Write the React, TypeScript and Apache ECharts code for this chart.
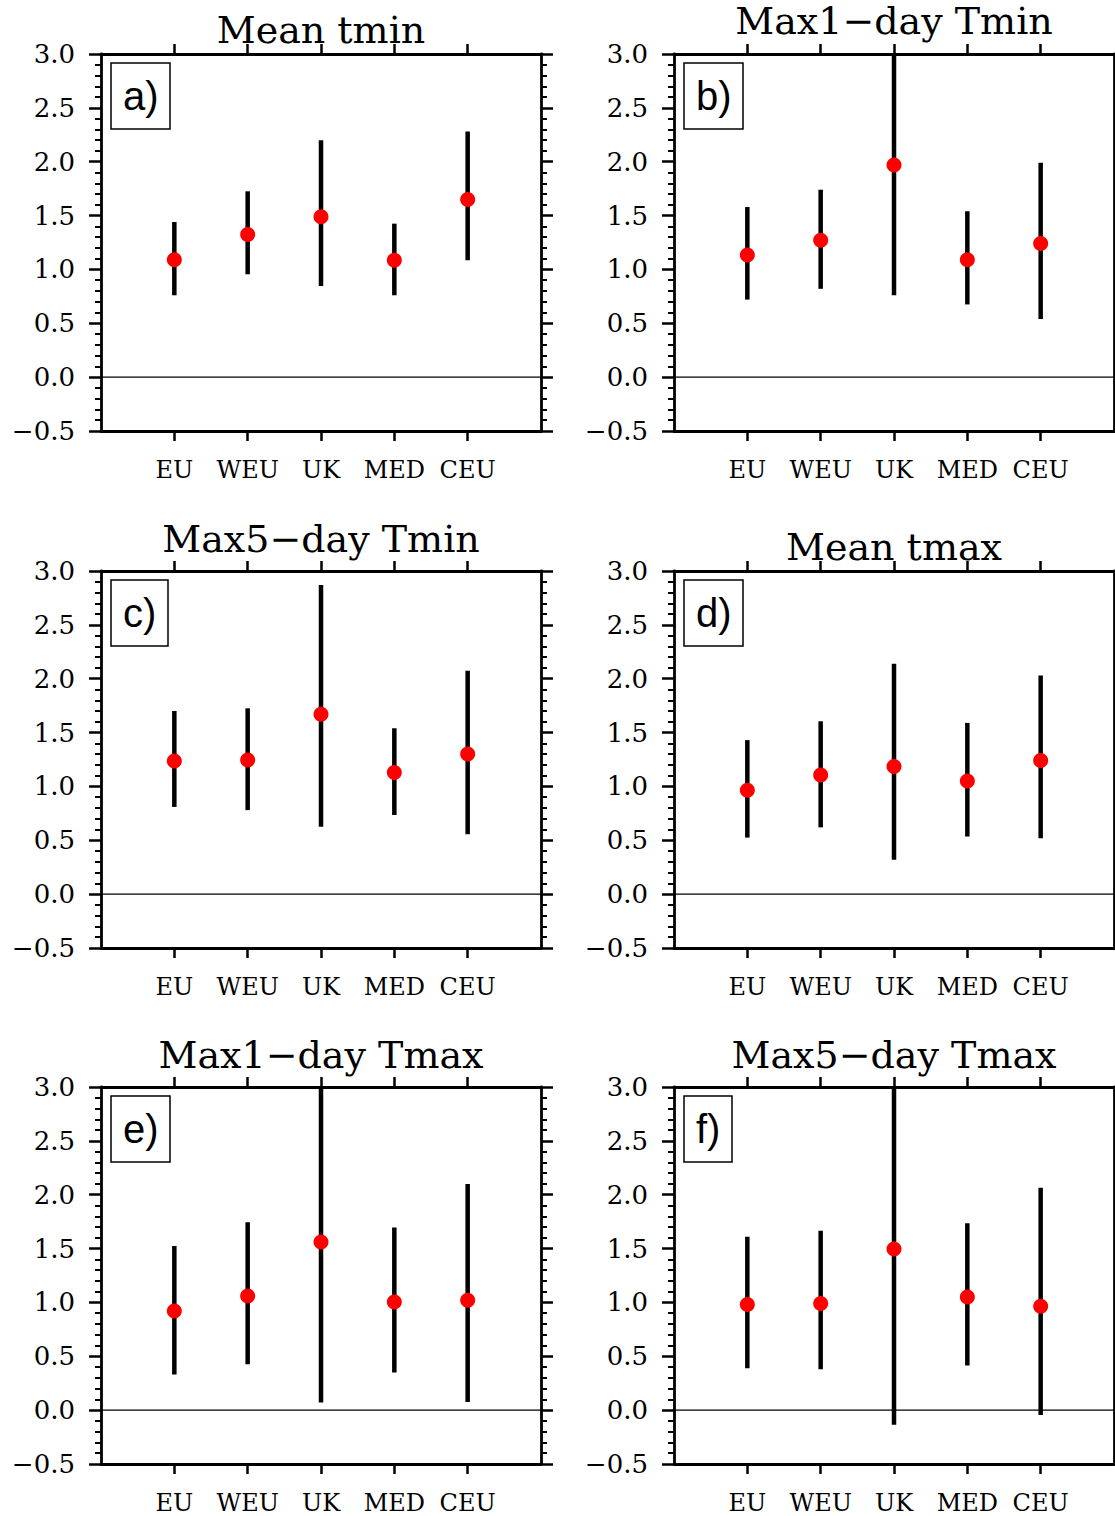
import React, { useEffect, useRef } from "react";
import * as echarts from "echarts";

// ---------------- data ----------------
const categories = ["EU", "WEU", "UK", "MED", "CEU"];
const panelTitles = ["Mean tmin", "Max1\u2212day Tmin", "Max5\u2212day Tmin", "Mean tmax", "Max1\u2212day Tmax", "Max5\u2212day Tmax"];
const panelTags = ["a)", "b)", "c)", "d)", "e)", "f)"];

// a) Mean tmin
const meanA = [1.09, 1.325, 1.49, 1.085, 1.65];
const lowA = [0.76, 0.955, 0.845, 0.76, 1.085];
const highA = [1.44, 1.725, 2.2, 1.425, 2.28];
// b) Max1-day Tmin
const meanB = [1.135, 1.27, 1.97, 1.09, 1.24];
const lowB = [0.72, 0.82, 0.76, 0.675, 0.54];
const highB = [1.58, 1.74, 3.3, 1.54, 1.99];
// c) Max5-day Tmin
const meanC = [1.235, 1.245, 1.67, 1.13, 1.3];
const lowC = [0.81, 0.78, 0.625, 0.735, 0.555];
const highC = [1.7, 1.725, 2.87, 1.54, 2.075];
// d) Mean tmax
const meanD = [0.965, 1.105, 1.185, 1.05, 1.24];
const lowD = [0.525, 0.62, 0.32, 0.535, 0.52];
const highD = [1.43, 1.605, 2.14, 1.59, 2.03];
// e) Max1-day Tmax
const meanE = [0.92, 1.06, 1.56, 1.005, 1.02];
const lowE = [0.33, 0.425, 0.07, 0.35, 0.075];
const highE = [1.525, 1.745, 3.3, 1.695, 2.1];
// f) Max5-day Tmax
const meanF = [0.98, 0.99, 1.495, 1.05, 0.965];
const lowF = [0.39, 0.38, -0.135, 0.415, -0.045];
const highF = [1.61, 1.665, 3.3, 1.735, 2.065];

const means = [meanA, meanB, meanC, meanD, meanE, meanF];
const lows = [lowA, lowB, lowC, lowD, lowE, lowF];
const highs = [highA, highB, highC, highD, highE, highF];

// ---------------- layout ----------------
const colLefts = [101, 674];
const rowTops = [54, 571, 1087];
const plotW = 440;
const plotH = 377;
const titleCenterY = [30, 21, 539, 547, 1055, 1055];
const serif = "DejaVu Serif";

function fmtY(v: number): string {
  const s = Math.abs(v).toFixed(1);
  return v < 0 ? "\u2212" + s : s;
}

export default function App() {
  const ref = useRef<HTMLDivElement>(null);

  useEffect(() => {
    if (!ref.current) return;
    const chart = echarts.init(ref.current, undefined, { renderer: "svg" });

    const grids: any[] = [];
    const xAxes: any[] = [];
    const yAxes: any[] = [];
    const series: any[] = [];
    const titles: any[] = [];
    const graphics: any[] = [];
    const catTicks = categories.map((_, i) => i + 1);

    for (let p = 0; p < 6; p++) {
      const col = p % 2;
      const row = Math.floor(p / 2);
      const left = colLefts[col];
      const top = rowTops[row];
      grids.push({ left, top, width: plotW, height: plotH, containLabel: false });

      const axisLineStyle = { color: "#000", width: 2.8 };
      const xBase = {
        type: "value",
        gridIndex: p,
        min: 0,
        max: 6,
        interval: 1,
        splitLine: { show: false },
        axisLine: { show: true, onZero: false, lineStyle: axisLineStyle },
        axisTick: { show: true, inside: false, length: 10, customValues: catTicks, lineStyle: { color: "#000", width: 2.5 } },
      };
      xAxes.push({
        ...xBase,
        position: "bottom",
        axisLabel: {
          show: true,
          customValues: catTicks,
          margin: 27,
          color: "#000",
          fontFamily: serif,
          fontSize: 24,
          formatter: (v: number) => categories[Math.round(v) - 1] ?? "",
        },
      });
      xAxes.push({ ...xBase, position: "top", axisLabel: { show: false } });

      const yBase = {
        type: "value",
        gridIndex: p,
        min: -0.5,
        max: 3,
        interval: 0.5,
        splitLine: { show: false },
        axisLine: { show: true, onZero: false, lineStyle: axisLineStyle },
        axisTick: { show: true, inside: false, length: 12, lineStyle: { color: "#000", width: 2.5 } },
        minorTick: { show: true, splitNumber: 5, length: 6, lineStyle: { color: "#000", width: 2 } },
        minorSplitLine: { show: false },
      };
      yAxes.push({
        ...yBase,
        position: "left",
        axisLabel: {
          show: true,
          margin: 26,
          color: "#000",
          fontFamily: serif,
          fontSize: 26,
          formatter: (v: number) => fmtY(v),
        },
      });
      yAxes.push({ ...yBase, position: "right", axisLabel: { show: false } });

      const xi = p * 2;
      const yi = p * 2;

      series.push({
        type: "line",
        xAxisIndex: xi,
        yAxisIndex: yi,
        data: [[0, 0], [6, 0]],
        symbol: "none",
        silent: true,
        lineStyle: { color: "#000", width: 1.2 },
        z: 1,
      });

      series.push({
        type: "custom",
        xAxisIndex: xi,
        yAxisIndex: yi,
        data: categories.map((_, i) => [i + 1, lows[p][i], highs[p][i]]),
        encode: { x: 0, y: [1, 2] },
        z: 3,
        renderItem: (params: any, api: any) => {
          const x = api.value(0);
          const lo = api.value(1);
          const hi = api.value(2);
          const a = api.coord([x, lo]);
          const b = api.coord([x, hi]);
          const cs = params.coordSys;
          const t = cs.y;
          const bt = cs.y + cs.height;
          const clamp = (y: number) => Math.min(Math.max(y, t), bt);
          return {
            type: "line",
            shape: { x1: a[0], y1: clamp(a[1]), x2: b[0], y2: clamp(b[1]) },
            style: { stroke: "#000", lineWidth: 4.5, lineCap: "butt" },
          };
        },
      });

      series.push({
        type: "scatter",
        xAxisIndex: xi,
        yAxisIndex: yi,
        data: categories.map((_, i) => [i + 1, means[p][i]]),
        symbol: "circle",
        symbolSize: 15,
        itemStyle: { color: "#ff0000", opacity: 1 },
        z: 5,
      });

      titles.push({
        text: panelTags[p],
        left: left + 10,
        top: top + 9,
        padding: [10, 12, 10, 12],
        borderColor: "#000",
        borderWidth: 1.5,
        backgroundColor: "#fff",
        textStyle: {
          fontFamily: "Liberation Sans",
          fontSize: 40,
          fontWeight: "normal",
          color: "#000",
          lineHeight: 46,
        },
      });

      graphics.push({
        type: "text",
        x: left + plotW / 2,
        y: titleCenterY[p],
        z: 10,
        style: {
          text: panelTitles[p],
          fontFamily: serif,
          fontSize: 38,
          fill: "#000",
          textAlign: "center",
          textVerticalAlign: "middle",
          align: "center",
          verticalAlign: "middle",
        },
      });
    }

    chart.setOption({
      animation: false,
      backgroundColor: "#fff",
      title: titles,
      grid: grids,
      xAxis: xAxes,
      yAxis: yAxes,
      series,
      graphic: graphics,
    });

    return () => chart.dispose();
  }, []);

  return (
    <div
      ref={ref}
      style={{ position: "absolute", left: 0, top: 0, width: 1115, height: 1516, background: "#fff" }}
    />
  );
}
